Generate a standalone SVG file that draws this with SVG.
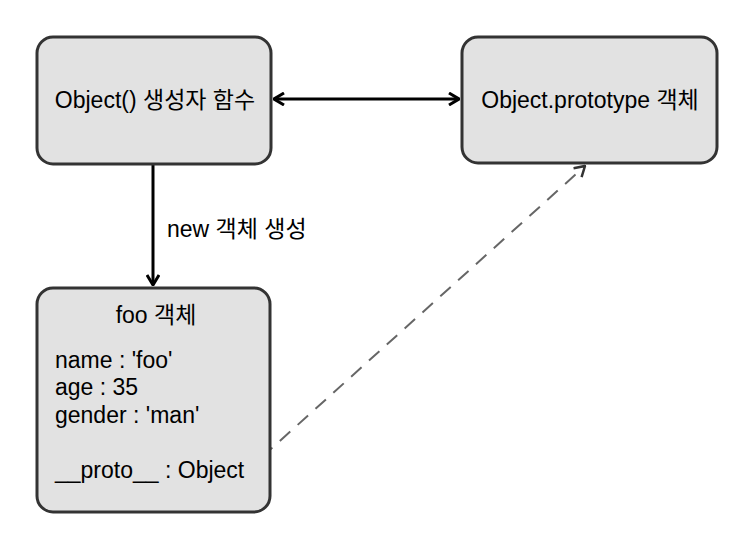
<svg xmlns="http://www.w3.org/2000/svg" width="748" height="544" viewBox="0 0 748 544">
<style>
.box{fill:#e2e2e2;stroke:#333;stroke-width:3}
.t{font-family:"Liberation Sans","Noto Sans CJK KR",sans-serif;font-size:23px;fill:#000}
.c{text-anchor:middle}
.ln{fill:none;stroke:#000;stroke-width:3}
.dash{fill:none;stroke:#666;stroke-width:2;stroke-dasharray:14 10}
</style>
<defs>
<marker id="ah" viewBox="0 0 12 14" markerWidth="12" markerHeight="14" refX="11" refY="7" orient="auto-start-reverse" markerUnits="userSpaceOnUse">
<path d="M1,1 L11,7 L1,13" fill="none" stroke="#000" stroke-width="3"/>
</marker>
<marker id="ahg" viewBox="0 0 12 14" markerWidth="12" markerHeight="14" refX="11" refY="7" orient="auto" markerUnits="userSpaceOnUse">
<path d="M1,1 L11,7 L1,13" fill="none" stroke="#333" stroke-width="2.5"/>
</marker>
</defs>
<rect width="748" height="544" fill="#fff"/>
<g id="connectors">
<line class="ln" x1="274" y1="99" x2="459" y2="99" marker-start="url(#ah)" marker-end="url(#ah)"/>
<line class="ln" x1="153" y1="165" x2="153" y2="285" marker-end="url(#ah)"/>
<line class="dash" x1="262" y1="457" x2="585" y2="166" marker-end="url(#ahg)"/>
<text class="t" x="167" y="237">new 객체 생성</text>
</g>
<g id="ctor">
<rect class="box" x="37" y="37" width="234" height="127" rx="16"/>
<text class="t c" x="155" y="108">Object() 생성자 함수</text>
</g>
<g id="proto">
<rect class="box" x="462" y="37" width="255" height="126" rx="16"/>
<text class="t c" x="590" y="108">Object.prototype 객체</text>
</g>
<g id="foo">
<rect class="box" x="37" y="288" width="233" height="224" rx="16"/>
<text class="t c" x="156" y="323">foo 객체</text>
<text class="t" x="55" y="368">name : 'foo'</text>
<text class="t" x="55" y="395">age : 35</text>
<text class="t" x="55" y="423">gender : 'man'</text>
<text class="t" x="55" y="478">__proto__ : Object</text>
</g>
</svg>
